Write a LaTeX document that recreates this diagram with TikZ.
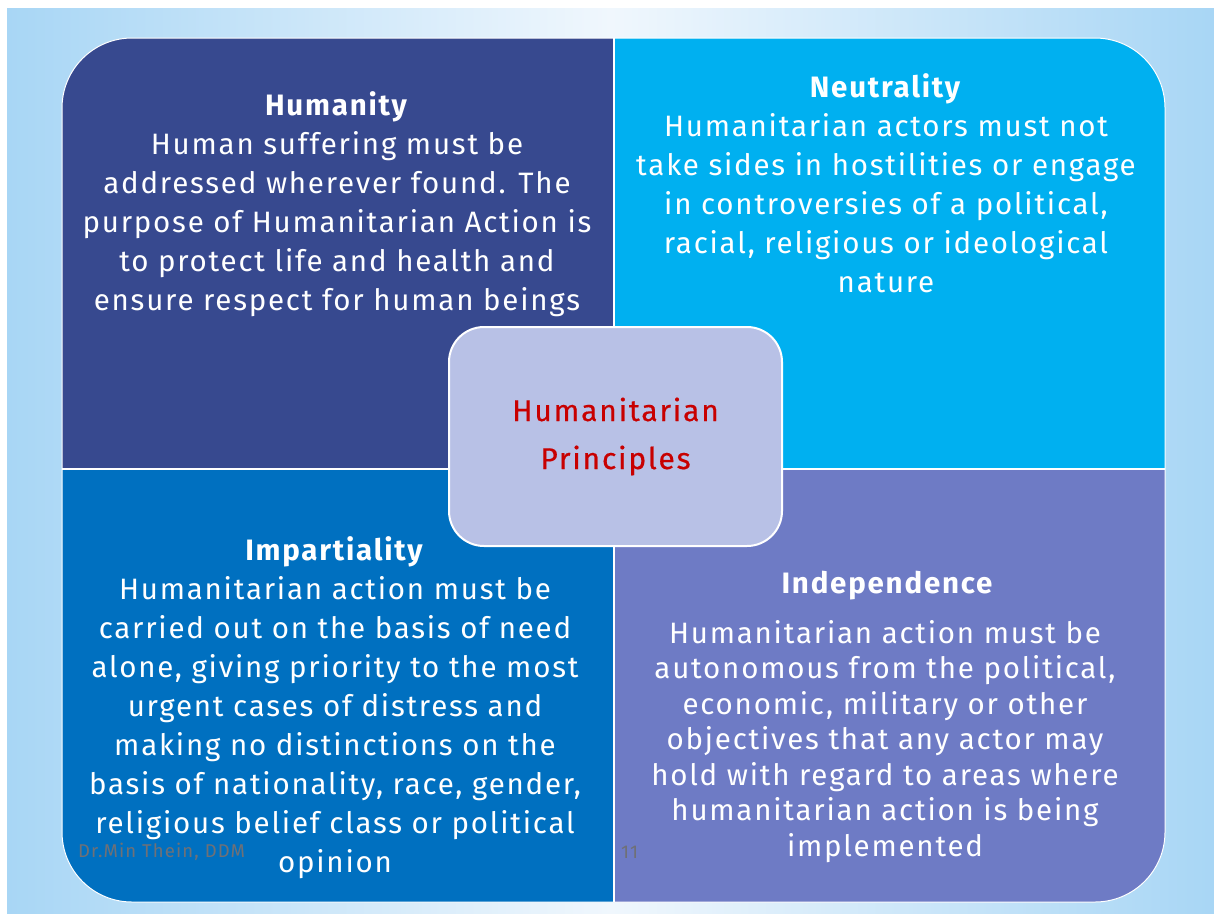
\documentclass[tikz,border=0pt]{standalone}
\usepackage{fontspec}
\setmainfont[LetterSpace=6]{Fira Sans}
\usetikzlibrary{positioning}
\definecolor{skyedge}{RGB}{168,214,245}
\definecolor{skymid}{RGB}{240,247,253}
\definecolor{humanityblue}{RGB}{55,73,143}
\definecolor{neutralcyan}{RGB}{0,176,240}
\definecolor{impartialblue}{RGB}{0,112,192}
\definecolor{independlav}{RGB}{110,123,197}
\definecolor{centrefill}{RGB}{184,193,230}
\definecolor{centrered}{RGB}{200,0,0}
\definecolor{footgray}{RGB}{112,112,118}
\newcommand\quadrant[5]{%
  \begin{scope}
    \clip (#1,#2) rectangle (#3,#4);
    \fill[#5, rounded corners=70pt] (62,38) rectangle (1165,902);
  \end{scope}
}
\tikzset{
  principle/.style={align=center, text=white, inner sep=0pt, anchor=north,
    font=\fontsize{29.5}{39}\selectfont},
  title/.style={principle, font=\fontsize{29.5}{39}\selectfont\bfseries},
  sepline/.style={draw=white, line width=2pt},
  centrebox/.style={draw=white, line width=2pt, fill=centrefill, rounded corners=35pt,
    minimum width=333pt, minimum height=219pt, align=center, text=centrered,
    font=\fontsize{30}{48}\selectfont\addfontfeature{FakeBold=0.5}},
  footnote/.style={text=footgray, inner sep=0pt, font=\fontsize{18.5}{20}\selectfont}
}
\begin{document}
\begin{tikzpicture}[x=1pt,y=-1pt]
        % Background
        \useasboundingbox (0,0) rectangle (1214,913);
        \fill[white] (0,0) rectangle (1214,913);
        \shade[left color=skyedge, right color=skyedge, middle color=skymid] (7,8) rectangle (1214,913);

        % The four principles
        \quadrant{62}{38}{614}{469}{humanityblue}
        \quadrant{614}{38}{1165}{469}{neutralcyan}
        \quadrant{62}{469}{614}{902}{impartialblue}
        \quadrant{614}{469}{1165}{902}{independlav}
        % Separation lines
        \draw[sepline] (614,38) -- (614,902);
        \draw[sepline] (62,469) -- (1165,469);
        \draw[sepline, line width=1pt, rounded corners=70pt] (62,38) rectangle (1165,902);

        \node[principle] (humanity) at (337,91) {\textbf{Humanity}\\
          Human suffering must be\\
          addressed wherever found. The\\
          purpose of Humanitarian Action is\\
          to protect life and health and\\
          ensure respect for human beings};
        \node[principle] (neutrality) at (886,73) {\textbf{Neutrality}\\
          Humanitarian actors must not\\
          take sides in hostilities or engage\\
          in controversies of a political,\\
          racial, religious or ideological\\
          nature};
        \node[principle] (impartiality) at (335,536) {\textbf{Impartiality}\\
          Humanitarian action must be\\
          carried out on the basis of need\\
          alone, giving priority to the most\\
          urgent cases of distress and\\
          making no distinctions on the\\
          basis of nationality, race, gender,\\
          religious belief class or political\\
          opinion};
        \node[title] (independence) at (887,571) {Independence};
        \node[principle, font=\fontsize{29.5}{35.5}\selectfont] (independtext) at (885,620) {%
          Humanitarian action must be\\
          autonomous from the political,\\
          economic, military or other\\
          objectives that any actor may\\
          hold with regard to areas where\\
          humanitarian action is being\\
          implemented};

        % The centre
        \node[centrebox] (centre) at (615.5,436.5) {Humanitarian\\Principles};

        % Footer
        \node[footnote, anchor=west] (author) at (78,852) {Dr.Min Thein, DDM};
        \node[footnote, anchor=west] (pagenum) at (621,852) {11};
\end{tikzpicture}
\end{document}
